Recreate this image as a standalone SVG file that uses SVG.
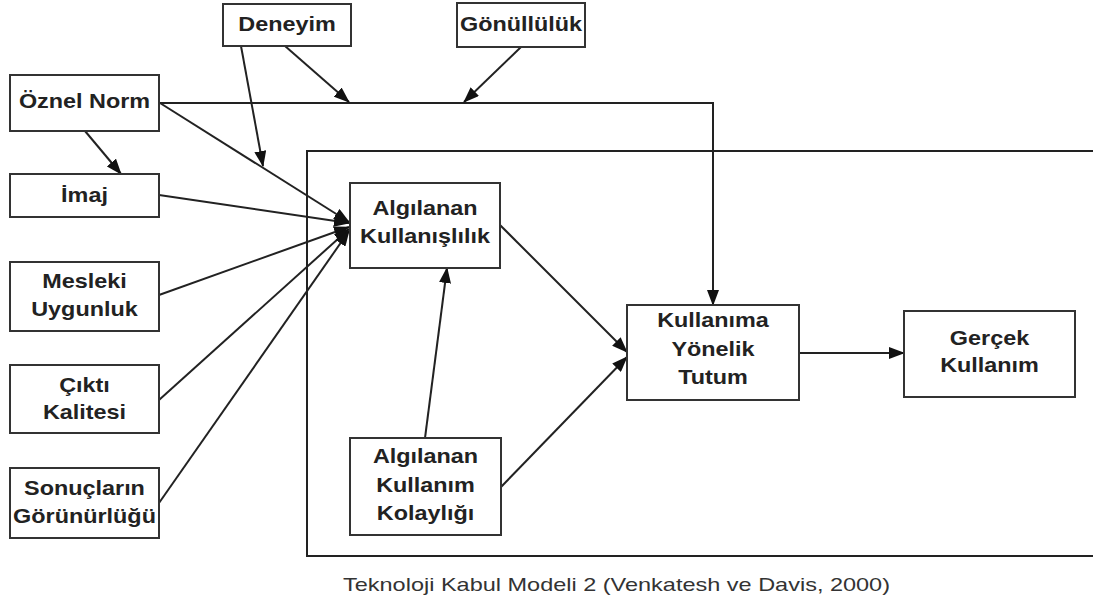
<svg xmlns="http://www.w3.org/2000/svg" width="1093" height="606" viewBox="0 0 1093 606">
<defs>
<marker id="ah" markerUnits="userSpaceOnUse" markerWidth="16" markerHeight="12" refX="15" refY="6" orient="auto">
<path d="M0,0 L16,6 L0,12 Z" fill="#111"/>
</marker>
<style>
.box{fill:#fff;stroke:#333;stroke-width:2}
.lbl{font-family:"Liberation Sans",Arial,sans-serif;font-weight:bold;font-size:20px;fill:#222;text-anchor:middle}
.con{fill:none;stroke:#222;stroke-width:2}
.arr{fill:none;stroke:#222;stroke-width:2;marker-end:url(#ah)}
.cap{font-family:"Liberation Sans",Arial,sans-serif;font-size:19px;fill:#333}
</style>
</defs>
<rect width="1093" height="606" fill="#fff"/>
<path class="con" d="M1095,151 H307 V556 H1095"/>
<g id="connectors">
<path class="arr" d="M159,103 H713 V305"/>
<line class="arr" x1="285" y1="46" x2="349" y2="102"/>
<line class="arr" x1="521" y1="47" x2="464" y2="102"/>
<line class="arr" x1="241" y1="46" x2="263" y2="166"/>
<line class="arr" x1="85" y1="131" x2="121" y2="174"/>
<line class="arr" x1="160" y1="103" x2="349" y2="222"/>
<line class="arr" x1="159" y1="195" x2="349" y2="223"/>
<line class="arr" x1="159" y1="295" x2="349" y2="227"/>
<line class="arr" x1="159" y1="400" x2="349" y2="229"/>
<line class="arr" x1="159" y1="503" x2="349" y2="231"/>
<line class="arr" x1="500" y1="225" x2="627" y2="352"/>
<line class="arr" x1="501" y1="487" x2="627" y2="357"/>
<line class="arr" x1="425" y1="438" x2="447" y2="268"/>
<line class="arr" x1="799" y1="353" x2="904" y2="353"/>
</g>
<g id="deneyim"><rect class="box" x="223" y="4" width="128" height="42"/><text class="lbl" transform="translate(287,31) scale(1.17,1)">Deneyim</text></g>
<g id="gonulluluk"><rect class="box" x="457" y="3" width="128" height="44"/><text class="lbl" transform="translate(521,31) scale(1.17,1)">Gönüllülük</text></g>
<g id="oznel-norm"><rect class="box" x="10" y="75" width="149" height="56"/><text class="lbl" transform="translate(84.5,108) scale(1.17,1)">Öznel Norm</text></g>
<g id="imaj"><rect class="box" x="10" y="174" width="149" height="43"/><text class="lbl" transform="translate(84.5,202) scale(1.17,1)">İmaj</text></g>
<g id="mesleki"><rect class="box" x="10" y="262" width="149" height="69"/><text class="lbl" transform="translate(84.5,288) scale(1.17,1)">Mesleki</text><text class="lbl" transform="translate(84.5,316) scale(1.17,1)">Uygunluk</text></g>
<g id="cikti"><rect class="box" x="10" y="365" width="149" height="68"/><text class="lbl" transform="translate(84.5,392) scale(1.17,1)">Çıktı</text><text class="lbl" transform="translate(84.5,419) scale(1.17,1)">Kalitesi</text></g>
<g id="sonuclar"><rect class="box" x="10" y="468" width="149" height="70"/><text class="lbl" transform="translate(84.5,495) scale(1.17,1)">Sonuçların</text><text class="lbl" transform="translate(84.5,523) scale(1.17,1)">Görünürlüğü</text></g>
<g id="pu"><rect class="box" x="350" y="183" width="150" height="85"/><text class="lbl" transform="translate(425,215) scale(1.17,1)">Algılanan</text><text class="lbl" transform="translate(425,243) scale(1.17,1)">Kullanışlılık</text></g>
<g id="peou"><rect class="box" x="350" y="438" width="151" height="97"/><text class="lbl" transform="translate(425.5,463) scale(1.17,1)">Algılanan</text><text class="lbl" transform="translate(425.5,492) scale(1.17,1)">Kullanım</text><text class="lbl" transform="translate(425.5,520) scale(1.17,1)">Kolaylığı</text></g>
<g id="tutum"><rect class="box" x="627" y="305" width="172" height="95"/><text class="lbl" transform="translate(713,327) scale(1.17,1)">Kullanıma</text><text class="lbl" transform="translate(713,356) scale(1.17,1)">Yönelik</text><text class="lbl" transform="translate(713,384) scale(1.17,1)">Tutum</text></g>
<g id="gercek"><rect class="box" x="904" y="311" width="171" height="86"/><text class="lbl" transform="translate(989.5,345) scale(1.17,1)">Gerçek</text><text class="lbl" transform="translate(989.5,372) scale(1.17,1)">Kullanım</text></g>
<text class="cap" x="343" y="591" textLength="547" lengthAdjust="spacingAndGlyphs">Teknoloji Kabul Modeli 2 (Venkatesh ve Davis, 2000)</text>
</svg>
